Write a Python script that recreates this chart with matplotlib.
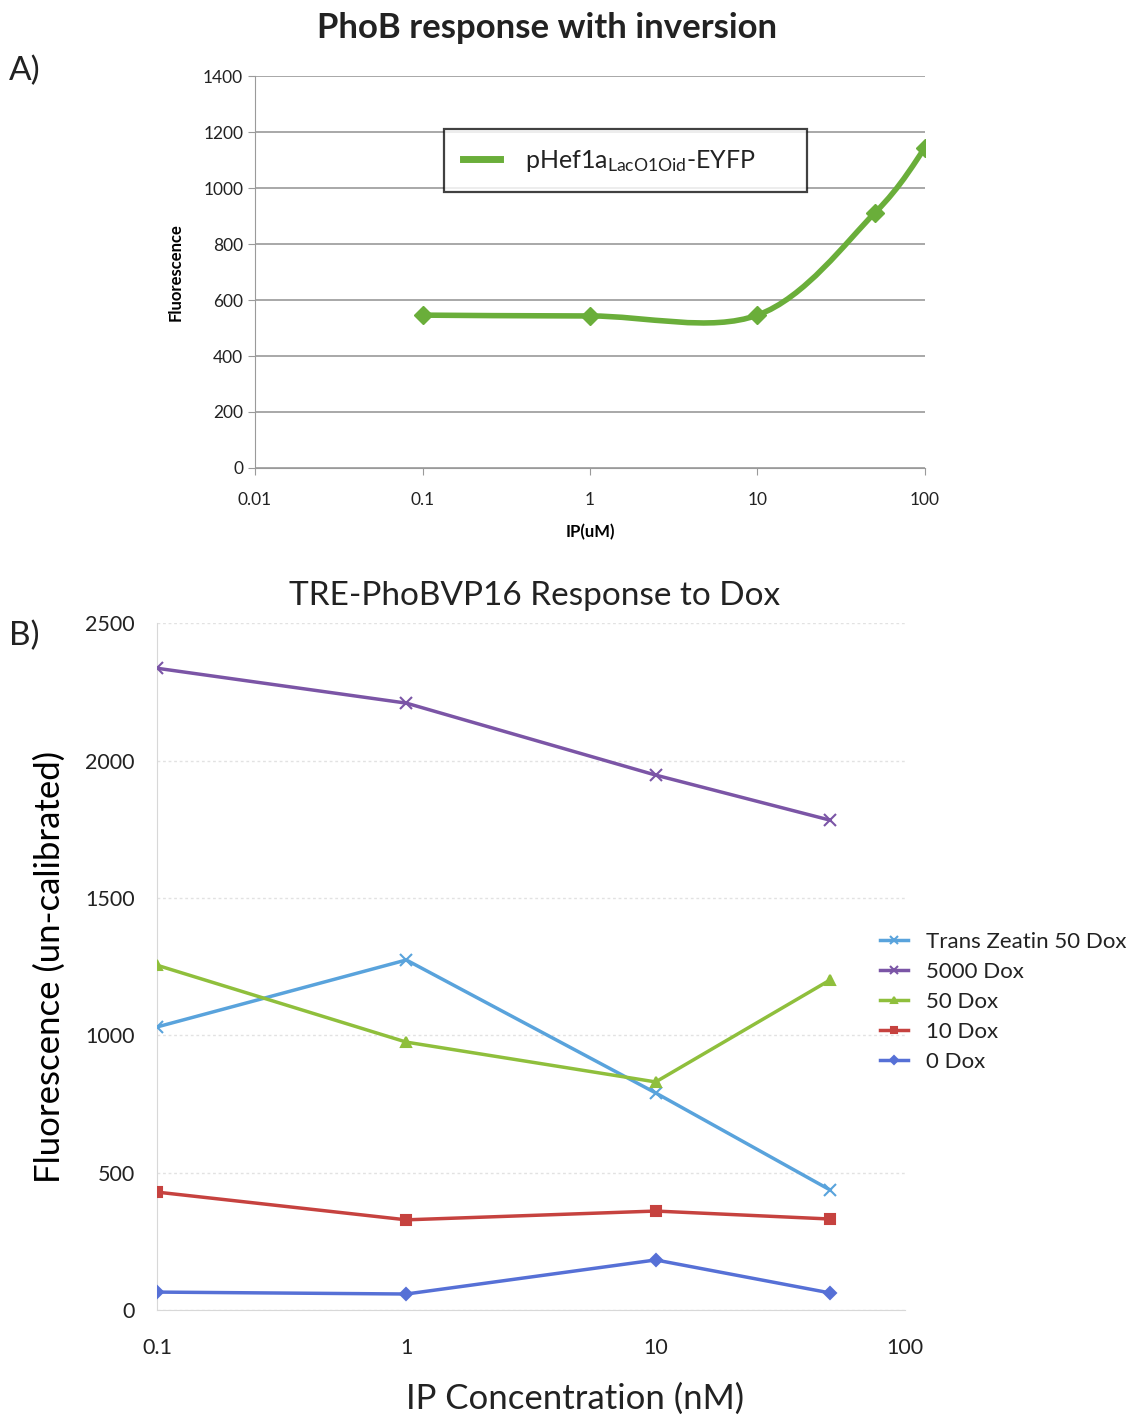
"""
PhoB response figure: panel A (inversion, smoothed) and panel B (Dox response).
Output: out.png
"""

import matplotlib
matplotlib.use("Agg")
import matplotlib.pyplot as plt
import numpy as np
from matplotlib.path import Path
from matplotlib.patches import PathPatch
from matplotlib.lines import Line2D
from matplotlib.ticker import FixedLocator, FixedFormatter, NullLocator

# ---------------------------------------------------------------------------
# Data
# ---------------------------------------------------------------------------

# Panel A
ip_a = [0.1, 1, 10, 50, 100]
fluor_a = [546, 543, 546, 910, 1143]
label_a = r"pHef1a$_{\mathrm{LacO1Oid}}$-EYFP"

# Panel B
ip_b = [0.1, 1, 10, 50]
series_b = ["Trans Zeatin 50 Dox", "5000 Dox", "50 Dox", "10 Dox", "0 Dox"]
tz50 = [1030, 1274, 790, 437]
dox5000 = [2336, 2209, 1947, 1783]
dox50 = [1255, 975, 830, 1201]
dox10 = [429, 328, 360, 331]
dox0 = [65, 58, 182, 62]
values_b = [tz50, dox5000, dox50, dox10, dox0]

# ---------------------------------------------------------------------------
# Style
# ---------------------------------------------------------------------------

plt.rcParams.update({
    "font.family": ["Lato", "DejaVu Sans"],
    "mathtext.fontset": "custom",
    "mathtext.rm": "Lato",
    "mathtext.it": "Lato",
    "text.color": "#222222",
})

GREEN_A = "#6aae3a"
colors_b = ["#59a3dc", "#7b55a6", "#8fbf3c", "#c6423f", "#5670d6"]
markers_b = ["x", "x", "^", "s", "D"]
msizes_b = [8, 8, 7, 7, 6]

fig = plt.figure(figsize=(11.37, 14.16), dpi=100, facecolor="white")

# ---------------------------------------------------------------------------
# Panel A
# ---------------------------------------------------------------------------

ax1 = fig.add_axes([0.2243, 0.6695, 0.5892, 0.2768])
ax1.set_xscale("log")
ax1.set_xlim(0.01, 100)
ax1.set_ylim(0, 1400)

# smooth curve (Catmull-Rom style Bezier in log-x space, like Excel smoothing)
lx = np.log10(ip_a)
ly = np.array(fluor_a, dtype=float)
n = len(lx)
verts = [(ip_a[0], fluor_a[0])]
codes = [Path.MOVETO]
for i in range(n - 1):
    p0 = i - 1 if i > 0 else i
    p3 = i + 2 if i + 2 < n else i + 1
    c1x = lx[i] + (lx[i + 1] - lx[p0]) / 6
    c1y = ly[i] + (ly[i + 1] - ly[p0]) / 6
    c2x = lx[i + 1] - (lx[p3] - lx[i]) / 6
    c2y = ly[i + 1] - (ly[p3] - ly[i]) / 6
    verts += [(10 ** c1x, c1y), (10 ** c2x, c2y), (ip_a[i + 1], fluor_a[i + 1])]
    codes += [Path.CURVE4] * 3
ax1.add_patch(PathPatch(Path(verts, codes), facecolor="none",
                        edgecolor=GREEN_A, linewidth=4, zorder=3))
ax1.plot(ip_a, fluor_a, linestyle="none", marker="D", markersize=9,
         color=GREEN_A, zorder=4)

ax1.yaxis.set_major_locator(FixedLocator(np.arange(0, 1401, 200)))
ax1.xaxis.set_major_locator(FixedLocator([0.01, 0.1, 1, 10, 100]))
ax1.xaxis.set_major_formatter(FixedFormatter(["0.01", "0.1", "1", "10", "100"]))
ax1.xaxis.set_minor_locator(NullLocator())
ax1.yaxis.grid(True, color="#9a9a9a", linewidth=1.2)
ax1.set_axisbelow(True)
for s in ["top", "right"]:
    ax1.spines[s].set_visible(False)
for s in ["left", "bottom"]:
    ax1.spines[s].set_color("#9a9a9a")
ax1.tick_params(axis="both", colors="#9a9a9a", labelcolor="#222222",
                labelsize=12.5, length=5)
ax1.tick_params(axis="x", pad=12)

ax1.set_xlabel("IP(uM)", fontsize=12, fontweight="bold", labelpad=12)
ax1.set_ylabel("Fluorescence", fontsize=12, fontweight="bold", labelpad=14)

fig.text(0.481, 0.980, "PhoB response with inversion", fontsize=25,
         fontweight="bold", ha="center", va="center")

leg1 = ax1.legend([Line2D([0], [0], color=GREEN_A, linewidth=5)],
                  [label_a + "      "],
                  loc="upper left", bbox_to_anchor=(0.282, 0.865),
                  fontsize=18, frameon=True, fancybox=False, edgecolor="#111111",
                  handlelength=1.5, borderpad=0.75, handletextpad=1.0,
                  borderaxespad=0)
leg1.get_frame().set_linewidth(1.6)

fig.text(0.008, 0.950, "A)", fontsize=24, va="center", ha="left")

# ---------------------------------------------------------------------------
# Panel B
# ---------------------------------------------------------------------------

ax2 = fig.add_axes([0.138, 0.0749, 0.658, 0.485])
ax2.set_xscale("log")
ax2.set_xlim(0.1, 100)
ax2.set_ylim(0, 2500)

for name, vals, c, m, ms in zip(series_b, values_b, colors_b, markers_b, msizes_b):
    ax2.plot(ip_b, vals, color=c, linewidth=2.5, marker=m, markersize=ms,
             markeredgewidth=1.5, label=name, zorder=3)

ax2.yaxis.set_major_locator(FixedLocator(np.arange(0, 2501, 500)))
ax2.xaxis.set_major_locator(FixedLocator([0.1, 1, 10, 100]))
ax2.xaxis.set_major_formatter(FixedFormatter(["0.1", "1", "10", "100"]))
ax2.xaxis.set_minor_locator(NullLocator())
ax2.yaxis.grid(True, color="#e2e2e2", linewidth=1, linestyle=(0, (2, 2)))
ax2.set_axisbelow(True)
for s in ["top", "right"]:
    ax2.spines[s].set_visible(False)
for s in ["left", "bottom"]:
    ax2.spines[s].set_color("#d8d8d8")
ax2.tick_params(axis="both", length=0, labelsize=15.5, labelcolor="#222222")
ax2.tick_params(axis="y", pad=16)
ax2.tick_params(axis="x", pad=20)

ax2.set_ylabel("Fluorescence (un-calibrated)", fontsize=25, labelpad=14)
fig.text(0.506, 0.012, "IP Concentration (nM)", fontsize=25,
         ha="center", va="center")
fig.text(0.47, 0.579, "TRE-PhoBVP16 Response to Dox", fontsize=24,
         ha="center", va="center")

ax2.legend(loc="upper left", bbox_to_anchor=(0.756, 0.356),
           bbox_transform=fig.transFigure, frameon=False, fontsize=16,
           handlelength=1.3, handletextpad=0.8, labelspacing=0.45,
           markerscale=0.7)

fig.text(0.008, 0.551, "B)", fontsize=24, va="center", ha="left")

plt.savefig("out.png", dpi=100, facecolor="white")
